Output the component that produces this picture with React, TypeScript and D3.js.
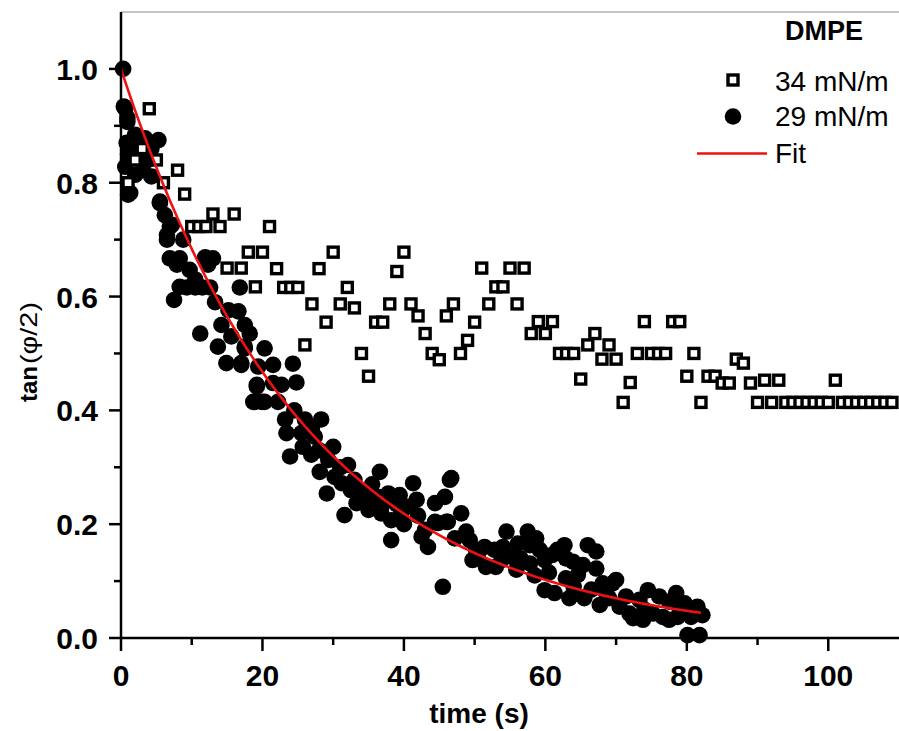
import React from "react";
import * as d3 from "d3";

const X_TICKS = [0, 20, 40, 60, 80, 100];
const X_MINOR = [10, 30, 50, 70, 90];
const Y_TICKS = [0, 0.2, 0.4, 0.6, 0.8, 1.0];
const Y_MINOR = [0.1, 0.3, 0.5, 0.7, 0.9];

// 34 mN/m (open squares): [time, tan(phi/2)]
const squares34: [number, number][] = [
  [1, 0.80], [2, 0.84], [3, 0.86], [4, 0.93], [5, 0.84], [6, 0.80], [8, 0.822], [9, 0.78],
  [10, 0.723], [11, 0.723], [12, 0.723], [13, 0.745], [14, 0.723], [15, 0.65], [16, 0.745],
  [17, 0.65], [18, 0.678], [19, 0.617], [20, 0.678], [21, 0.723], [22, 0.649], [23, 0.616],
  [24, 0.616], [25, 0.616], [26, 0.515], [27, 0.587], [28, 0.649], [29, 0.555], [30, 0.678],
  [31, 0.587], [32, 0.616], [33, 0.58], [34, 0.50], [35, 0.46], [36, 0.555], [37, 0.555],
  [38, 0.587], [39, 0.644], [40, 0.678], [41, 0.587], [42, 0.566], [43, 0.535], [44, 0.50],
  [45, 0.489], [46, 0.566], [47, 0.587], [48, 0.50], [49, 0.523], [50, 0.555], [51, 0.65],
  [52, 0.587], [53, 0.617], [54, 0.617], [55, 0.65], [56, 0.587], [57, 0.65], [58, 0.535],
  [59, 0.556], [60, 0.535], [61, 0.556], [62, 0.50], [63, 0.50], [64, 0.50], [65, 0.455],
  [66, 0.515], [67, 0.535], [68, 0.49], [69, 0.515], [70, 0.49], [71, 0.414], [72, 0.449],
  [73, 0.50], [74, 0.556], [75, 0.50], [76, 0.50], [77, 0.50], [78, 0.556], [79, 0.556],
  [80, 0.46], [81, 0.50], [82, 0.414], [83, 0.46], [84, 0.46], [85, 0.448], [86, 0.448],
  [87, 0.49], [88, 0.483], [89, 0.448], [90, 0.414], [91, 0.453], [92, 0.414], [93, 0.453],
  [94, 0.414], [95, 0.414], [96, 0.414], [97, 0.414], [98, 0.414], [99, 0.414], [100, 0.414],
  [101, 0.453], [102, 0.414], [103, 0.414], [104, 0.414], [105, 0.414], [106, 0.414],
  [107, 0.414], [108, 0.414], [109, 0.414],
];

// 29 mN/m (filled circles): [time, tan(phi/2)]
const circles29: [number, number][] = [
  [0.3, 1.0], [0.4, 0.934], [0.6, 0.93], [0.9, 0.914], [0.9, 0.907], [2, 0.884], [0.8, 0.87],
  [5.3, 0.875], [3.4, 0.878], [1, 0.85], [1.8, 0.86], [3.0, 0.86], [4.3, 0.86], [2.7, 0.846],
  [3.8, 0.84], [0.6, 0.828], [3.1, 0.822], [2, 0.814], [4.3, 0.811], [1.3, 0.782], [1.0, 0.779],
  [5.5, 0.767], [6.2, 0.743], [7.2, 0.726], [6.5, 0.708],
  [5.5, 0.764], [6.9, 0.723], [6.5, 0.70], [8.8, 0.70], [6.9, 0.667], [8.3, 0.667], [7.9, 0.656],
  [9.7, 0.647], [11.9, 0.669], [13, 0.667], [12.3, 0.656], [10.5, 0.63], [8.3, 0.617], [9.3, 0.616],
  [10.5, 0.616], [11.5, 0.616], [12.6, 0.616], [7.5, 0.594], [16.8, 0.616], [13.3, 0.59],
  [15.2, 0.576], [16.6, 0.574], [14.2, 0.55], [11.2, 0.535], [15.6, 0.53], [17.5, 0.55],
  [18.2, 0.535], [13.7, 0.512], [17.5, 0.509], [14.9, 0.483], [17, 0.483], [19.4, 0.477],
  [19.2, 0.442], [18.7, 0.415], [19.9, 0.415],
  [17.5, 0.512], [20.3, 0.509], [17, 0.48], [21.5, 0.48], [24.3, 0.482], [19.2, 0.445],
  [21.5, 0.448], [22.7, 0.445], [24.8, 0.449], [18.9, 0.415], [20.3, 0.415], [22.2, 0.415],
  [23.2, 0.384], [26, 0.384], [28.3, 0.384], [23.4, 0.36], [25.5, 0.36], [27.4, 0.354],
  [25.7, 0.336], [30, 0.336], [23.9, 0.319], [26.9, 0.322], [29.3, 0.313], [32.1, 0.304],
  [28.1, 0.292], [30.2, 0.283], [36.6, 0.292], [33, 0.278], [29.1, 0.254], [31.2, 0.272],
  [33.8, 0.257], [34.9, 0.245], [31.6, 0.216], [33.3, 0.237], [36.3, 0.248], [37.8, 0.254],
  [39.4, 0.251], [41.3, 0.272], [41.8, 0.243], [36.8, 0.219], [38.2, 0.207], [39.6, 0.219],
  [40.8, 0.231], [38.2, 0.172], [42.5, 0.178], [43.4, 0.16], [44.4, 0.237], [45.8, 0.248],
  [46.5, 0.278], [44.8, 0.202], [46.2, 0.204],
  [24.5, 0.40], [27, 0.37], [28, 0.33], [31, 0.30], [32.5, 0.26], [35.5, 0.27], [37, 0.235],
  [35, 0.225], [40, 0.20], [42, 0.215], [43, 0.19], [39, 0.235],
  [46.7, 0.281], [48.1, 0.219], [44.4, 0.204], [46, 0.204], [45.5, 0.09], [48.8, 0.187],
  [47.2, 0.175], [49.3, 0.172], [50.2, 0.155], [49.7, 0.137], [51.4, 0.16], [51.6, 0.125],
  [52.8, 0.155], [53, 0.125], [54.5, 0.187], [53.8, 0.137], [55.2, 0.143], [55.9, 0.12],
  [56.1, 0.166], [57.5, 0.187], [57.8, 0.163], [58.7, 0.175], [57.8, 0.131], [59.2, 0.155],
  [59.9, 0.137], [59.9, 0.084], [61.3, 0.079], [61, 0.146], [61.7, 0.155], [62.7, 0.163],
  [62.9, 0.14], [63.4, 0.07], [63.9, 0.134], [65.3, 0.128], [66, 0.163], [67.2, 0.152],
  [65.5, 0.07], [62.9, 0.105], [64.6, 0.111], [67.2, 0.122], [68.1, 0.096], [69.5, 0.096],
  [67.7, 0.058], [68.6, 0.079], [70, 0.102], [71.4, 0.073], [71.9, 0.043], [72.4, 0.035],
  [73.8, 0.032], [73.3, 0.067], [74.5, 0.084], [75.2, 0.043], [76.1, 0.073], [76.6, 0.037],
  [77.5, 0.064], [78.5, 0.079], [78.7, 0.037], [79.7, 0.061], [80.6, 0.037], [81.5, 0.055],
  [82.2, 0.04], [80.1, 0.005], [81.8, 0.005], [77.5, 0.032],
  [50.5, 0.14], [54, 0.16], [56.5, 0.14], [58.5, 0.11], [60.5, 0.115], [64, 0.09], [66.5, 0.085],
  [69, 0.07], [70.5, 0.055], [74, 0.05], [79, 0.05],
];

// Exponential fit parameters: y = FIT_A * exp(-t / FIT_TAU), t in [0, FIT_END]
const FIT_A = 1.0;
const FIT_TAU = 26.3;
const FIT_END = 82.3;

const LEGEND_LABELS = ["34 mN/m", "29 mN/m", "Fit"];
const LEGEND_TITLE = "DMPE";

const FONT = "'Liberation Sans', Arial, Helvetica, sans-serif";

export default function App() {
  const W = 899;
  const H = 731;
  const x = d3.scaleLinear().domain([0, 110]).range([121, 899]);
  const y = d3.scaleLinear().domain([0, 1.1]).range([638, 12]);

  const fitPts: [number, number][] = d3
    .range(0, FIT_END + 0.001, 0.5)
    .map((t) => [t, FIT_A * Math.exp(-t / FIT_TAU)]);
  const line = d3
    .line<[number, number]>()
    .x((d) => x(d[0]))
    .y((d) => y(d[1]))
    .curve(d3.curveMonotoneX);

  const x0 = x(0);
  const yb = y(0);

  return (
    <div style={{ position: "fixed", left: 0, top: 0, background: "#fff" }}>
      <svg width={W} height={H} style={{ display: "block", fontFamily: FONT }}>
        <rect x={0} y={0} width={W} height={H} fill="#fff" />
        {/* top frame line */}
        <line x1={x0} x2={W} y1={y(1.1)} y2={y(1.1)} stroke="#888" strokeWidth={1} />

        {/* circles */}
        <g>
          {circles29.map((d, i) => (
            <circle key={i} cx={x(d[0])} cy={y(d[1])} r={8.3} fill="#000" />
          ))}
        </g>
        {/* squares */}
        <g>
          {squares34.map((d, i) => (
            <rect
              key={i}
              x={x(d[0]) - 5}
              y={y(d[1]) - 5}
              width={10}
              height={10}
              fill="#fff"
              stroke="#000"
              strokeWidth={3.4}
            />
          ))}
        </g>
        {/* fit */}
        <path d={line(fitPts) || ""} fill="none" stroke="#ee1111" strokeWidth={2.6} />

        {/* axes */}
        <line x1={x0} x2={x0} y1={y(1.1)} y2={yb + 1} stroke="#000" strokeWidth={2.5} />
        <line x1={x0 - 1} x2={W} y1={yb} y2={yb} stroke="#000" strokeWidth={2.5} />
        {X_TICKS.map((t) => (
          <g key={"xt" + t}>
            <line x1={x(t)} x2={x(t)} y1={yb} y2={yb + 13} stroke="#000" strokeWidth={2.5} />
            <text
              x={x(t)}
              y={686}
              textAnchor="middle"
              fontSize={30}
              fontWeight="bold"
              fill="#000"
            >
              {t}
            </text>
          </g>
        ))}
        {X_MINOR.map((t) => (
          <line key={"xm" + t} x1={x(t)} x2={x(t)} y1={yb} y2={yb + 7} stroke="#000" strokeWidth={2.5} />
        ))}
        {Y_TICKS.map((v) => (
          <g key={"yt" + v}>
            <line x1={x0 - 12} x2={x0} y1={y(v)} y2={y(v)} stroke="#000" strokeWidth={2.5} />
            <text
              x={98}
              y={y(v) + 11}
              textAnchor="end"
              fontSize={30}
              fontWeight="bold"
              fill="#000"
            >
              {v.toFixed(1)}
            </text>
          </g>
        ))}
        {Y_MINOR.map((v) => (
          <line key={"ym" + v} x1={x0 - 7} x2={x0} y1={y(v)} y2={y(v)} stroke="#000" strokeWidth={2.5} />
        ))}

        {/* axis titles */}
        <text x={479} y={723} textAnchor="middle" fontSize={28} fontWeight="bold" fill="#000">
          time (s)
        </text>
        <text
          transform="translate(37,402) rotate(-90)"
          textAnchor="start"
          fontSize={24}
          fontWeight="bold"
          fill="#000"
        >
          tan
        </text>
        <text
          transform="translate(37,364) rotate(-90)"
          textAnchor="start"
          fontSize={24}
          fill="#000"
          textLength={62}
          lengthAdjust="spacingAndGlyphs"
        >
          (φ/2)
        </text>

        {/* legend */}
        <text x={824} y={40} textAnchor="middle" fontSize={27} fontWeight="bold" fill="#000">
          {LEGEND_TITLE}
        </text>
        <rect x={733 - 5} y={80 - 5} width={10} height={10} fill="#fff" stroke="#000" strokeWidth={3.4} />
        <text x={775} y={91} fontSize={28} fill="#000">
          {LEGEND_LABELS[0]}
        </text>
        <circle cx={733} cy={116.5} r={8.3} fill="#000" />
        <text x={775} y={126} fontSize={28} fill="#000">
          {LEGEND_LABELS[1]}
        </text>
        <line x1={697} x2={767} y1={153.5} y2={153.5} stroke="#ee1111" strokeWidth={2.6} />
        <text x={775} y={163} fontSize={28} fill="#000">
          {LEGEND_LABELS[2]}
        </text>
      </svg>
    </div>
  );
}
